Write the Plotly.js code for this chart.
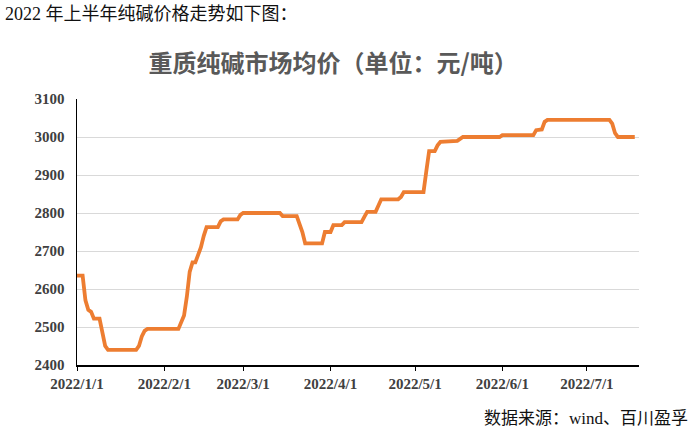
<!DOCTYPE html>
<html>
<head>
<meta charset="utf-8">
<script src="https://cdn.plot.ly/plotly-3.0.1.min.js"></script>
<style>
html,body{margin:0;padding:0;background:#fff;}
#chart{width:700px;height:442px;}
</style>
</head>
<body>
<div id="chart"></div>
<script>
// Data
const dates = [
  "2022-01-01","2022-01-03","2022-01-04","2022-01-05","2022-01-06","2022-01-07","2022-01-09",
  "2022-01-10","2022-01-11","2022-01-12","2022-01-22","2022-01-23","2022-01-24","2022-01-25",
  "2022-01-26","2022-02-06","2022-02-07","2022-02-08","2022-02-09","2022-02-10","2022-02-11",
  "2022-02-12","2022-02-13","2022-02-14","2022-02-15","2022-02-16","2022-02-20","2022-02-21",
  "2022-02-22","2022-02-27","2022-02-28","2022-03-01","2022-03-14","2022-03-15","2022-03-20",
  "2022-03-21","2022-03-22","2022-03-23","2022-03-29","2022-03-30","2022-04-01","2022-04-02",
  "2022-04-05","2022-04-06","2022-04-12","2022-04-13","2022-04-14","2022-04-17","2022-04-18",
  "2022-04-19","2022-04-25","2022-04-26","2022-04-27","2022-05-04","2022-05-05","2022-05-06",
  "2022-05-08","2022-05-09","2022-05-10","2022-05-16","2022-05-18","2022-05-31","2022-06-01",
  "2022-06-12","2022-06-13","2022-06-15","2022-06-16","2022-06-17","2022-07-09","2022-07-10",
  "2022-07-11","2022-07-12","2022-07-18"
];
const prices = [
  2635,2635,2570,2545,2540,2522,2522,
  2490,2450,2440,2440,2450,2475,2490,
  2495,2495,2510,2530,2580,2645,2670,
  2670,2690,2710,2740,2763,2763,2778,
  2783,2783,2795,2800,2800,2792,2792,
  2770,2750,2720,2720,2750,2750,2768,
  2768,2776,2776,2790,2803,2803,2820,
  2836,2836,2842,2855,2855,2910,2963,
  2963,2978,2987,2990,3000,3000,3005,
  3005,3018,3020,3040,3045,3045,3035,
  3010,3000,3000
];
const tickDates = ["2022-01-01","2022-02-01","2022-03-01","2022-04-01","2022-05-01","2022-06-01","2022-07-01"];
const tickLabels = ["2022/1/1","2022/2/1","2022/3/1","2022/4/1","2022/5/1","2022/6/1","2022/7/1"];
const yTicks = [2400,2500,2600,2700,2800,2900,3000,3100];

const chartTitle = "重质纯碱市场均价（单位：元/吨）";
const introText = "2022 年上半年纯碱价格走势如下图：";
const sourceText = "数据来源：wind、百川盈孚";

const tickFont = {family:"Liberation Serif, DejaVu Serif, serif", size:15, color:"#404040", weight:"bold"};

const trace = {
  x: dates, y: prices, type:"scatter", mode:"lines",
  line:{color:"#ED7D31", width:3.8}, hoverinfo:"x+y"
};

const layout = {
  width:700, height:442,
  margin:{l:77, r:61, t:99, b:77},
  paper_bgcolor:"#fff", plot_bgcolor:"#fff",
  showlegend:false,
  title:{
    text: chartTitle,
    font:{family:"Noto Sans CJK SC, sans-serif", size:24, color:"#595959", weight:"bold"},
    x:0.476, xref:"container", xanchor:"center",
    y:1-64/442, yref:"container", yanchor:"middle"
  },
  xaxis:{
    type:"date",
    range:["2022-01-01","2022-07-19 12:00"],
    tickmode:"array", tickvals:tickDates, ticktext:tickLabels,
    showline:true, linecolor:"#000", linewidth:1.5,
    ticks:"outside", ticklen:4, tickcolor:"#000",
    showgrid:false, zeroline:false,
    tickfont:tickFont
  },
  yaxis:{
    range:[2400,3100],
    tickmode:"array", tickvals:yTicks,
    showline:true, linecolor:"#000", linewidth:1.5,
    showgrid:true, gridcolor:"#D9D9D9", gridwidth:1,
    zeroline:false, ticks:"", ticklabelstandoff:8,
    tickfont:tickFont
  },
  annotations:[
    {text:introText, xref:"paper", yref:"paper", x:(3-77)/562, y:(364.7-14)/266,
     xanchor:"left", yanchor:"middle", showarrow:false,
     font:{family:"Liberation Serif, Noto Sans CJK SC, serif", size:18, color:"#111"}},
    {text:sourceText, xref:"paper", yref:"paper", x:(690-77)/562, y:(364.7-418)/266,
     xanchor:"right", yanchor:"middle", showarrow:false,
     font:{family:"Liberation Serif, Noto Sans CJK SC, serif", size:17, color:"#111"}}
  ]
};

Plotly.newPlot("chart", [trace], layout, {displayModeBar:false, staticPlot:true});
</script>
</body>
</html>
